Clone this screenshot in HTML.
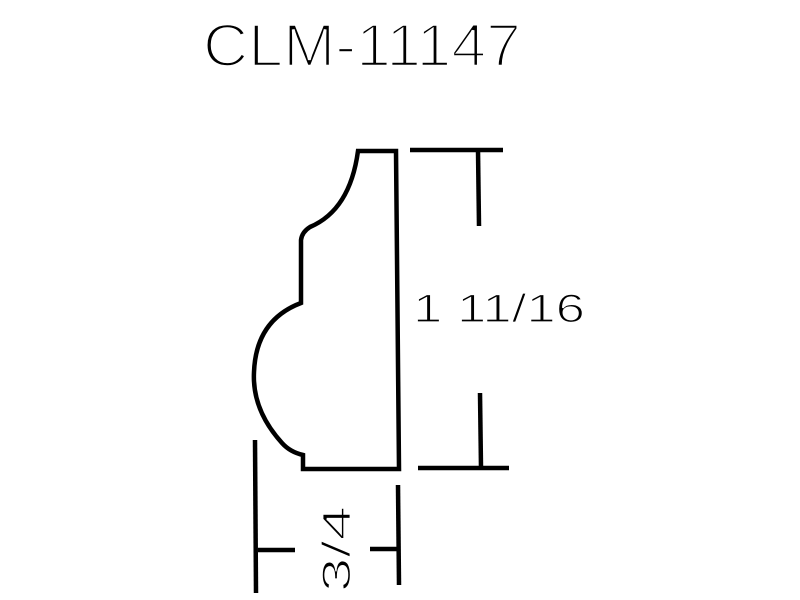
<!DOCTYPE html>
<html><head><style>html,body{margin:0;padding:0;background:#fff}svg{display:block}</style></head>
<body>
<svg width="800" height="600" viewBox="0 0 800 600" xmlns="http://www.w3.org/2000/svg">
<rect width="800" height="600" fill="#fff"/>
<text x="203" y="66" font-family="Liberation Sans, sans-serif" font-size="60" textLength="318" lengthAdjust="spacingAndGlyphs" fill="#000" stroke="#fff" stroke-width="2.6">CLM-11147</text>
<g fill="none" stroke="#000" stroke-width="4.5" stroke-linejoin="miter">
<path d="M358,151 L396,151 L399,469 L303,469 L303,455 Q290,452 282,443 Q252,410 254,372 Q256,320 301,303 L301,240 Q302,232 310,227 Q350,210 358,151 Z"/>
<line x1="410" y1="150" x2="503" y2="150"/>
<line x1="478" y1="150" x2="479" y2="226"/>
<line x1="418" y1="468" x2="509" y2="468"/>
<line x1="480" y1="393" x2="481" y2="468"/>
<line x1="255" y1="440" x2="256" y2="593"/>
<line x1="258" y1="550" x2="295" y2="550"/>
<line x1="398" y1="485" x2="399" y2="585"/>
<line x1="370" y1="549" x2="398" y2="549"/>
</g>
<text x="413" y="322" font-family="Liberation Sans, sans-serif" font-size="40" textLength="172" lengthAdjust="spacingAndGlyphs" fill="#000" stroke="#fff" stroke-width="1.3">1 11/16</text>
<text transform="translate(350,592) rotate(-90)" x="0" y="0" font-family="Liberation Sans, sans-serif" font-size="40" textLength="86" lengthAdjust="spacingAndGlyphs" fill="#000" stroke="#fff" stroke-width="1.3">3/4</text>
</svg>
</body></html>
